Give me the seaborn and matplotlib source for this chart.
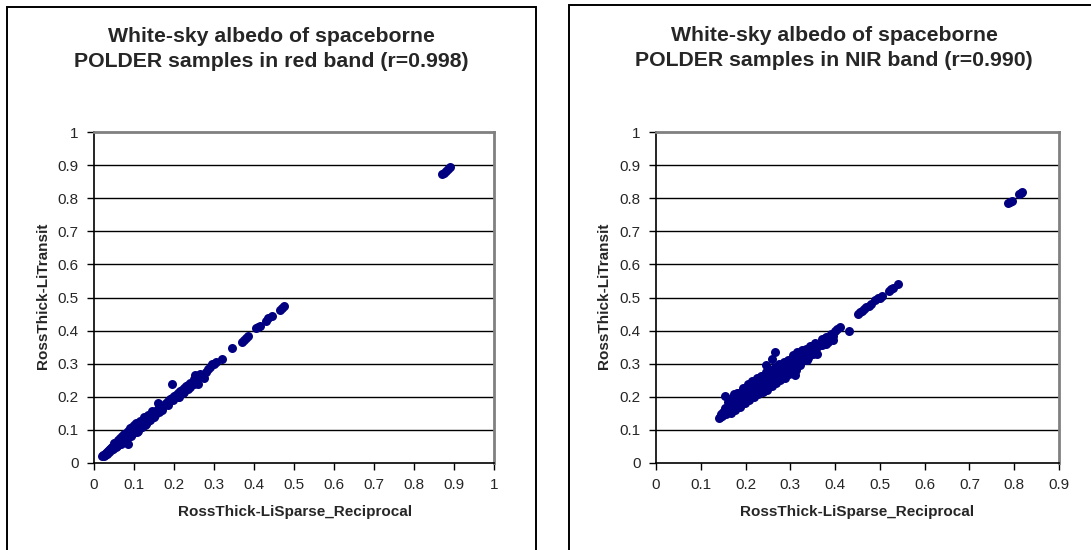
import matplotlib
matplotlib.use("Agg")
import matplotlib.pyplot as plt
import seaborn as sns
import pandas as pd
from matplotlib.patches import Rectangle

# ---- data: red band ----
red_x = [0.020, 0.022, 0.025, 0.027, 0.028, 0.030, 0.032, 0.033, 0.035, 0.037,
         0.038, 0.040, 0.042, 0.043, 0.045, 0.047, 0.048, 0.050, 0.052, 0.053,
         0.055, 0.057, 0.058, 0.060, 0.062, 0.063, 0.065, 0.067, 0.068, 0.070,
         0.072, 0.073, 0.075, 0.077, 0.078, 0.080, 0.082, 0.083, 0.085, 0.087,
         0.088, 0.090, 0.092, 0.093, 0.095, 0.097, 0.098, 0.100, 0.102, 0.103,
         0.105, 0.107, 0.108, 0.110, 0.112, 0.113, 0.115, 0.117, 0.118, 0.120,
         0.122, 0.125, 0.127, 0.130, 0.132, 0.135, 0.138, 0.140, 0.143, 0.145,
         0.148, 0.150, 0.153, 0.155, 0.160, 0.163, 0.165, 0.170, 0.175, 0.180,
         0.183, 0.185, 0.190, 0.195, 0.198, 0.200, 0.205, 0.210, 0.213, 0.215,
         0.220, 0.222, 0.225, 0.230, 0.235, 0.240, 0.245, 0.250, 0.253, 0.255,
         0.260, 0.265, 0.270, 0.280, 0.285, 0.290, 0.295, 0.300, 0.305, 0.320,
         0.345, 0.370, 0.375, 0.380, 0.385, 0.405, 0.410, 0.415, 0.430, 0.435,
         0.445, 0.465, 0.470, 0.475, 0.870, 0.875, 0.880, 0.885, 0.890,
         0.065, 0.075, 0.085, 0.095, 0.105, 0.115, 0.125, 0.135, 0.145, 0.100,
         0.110, 0.090, 0.080, 0.070, 0.060, 0.050, 0.120, 0.130, 0.160, 0.195,
         0.085, 0.250, 0.235, 0.055, 0.068, 0.078, 0.092, 0.108, 0.118, 0.128,
         0.140, 0.150, 0.170, 0.185, 0.210, 0.225, 0.240, 0.260, 0.275]
red_y = [0.022, 0.025, 0.020, 0.028, 0.024, 0.030, 0.033, 0.027, 0.035, 0.040,
         0.033, 0.042, 0.045, 0.038, 0.047, 0.050, 0.043, 0.055, 0.052, 0.060,
         0.058, 0.063, 0.050, 0.065, 0.060, 0.070, 0.068, 0.062, 0.075, 0.072,
         0.080, 0.065, 0.078, 0.085, 0.072, 0.083, 0.090, 0.078, 0.088, 0.095,
         0.082, 0.093, 0.100, 0.085, 0.098, 0.105, 0.092, 0.103, 0.110, 0.097,
         0.108, 0.115, 0.100, 0.113, 0.120, 0.105, 0.118, 0.125, 0.110, 0.122,
         0.118, 0.127, 0.120, 0.132, 0.125, 0.137, 0.130, 0.143, 0.135, 0.148,
         0.140, 0.152, 0.145, 0.158, 0.162, 0.155, 0.167, 0.170, 0.175, 0.182,
         0.178, 0.188, 0.192, 0.196, 0.190, 0.203, 0.205, 0.210, 0.200, 0.218,
         0.222, 0.212, 0.228, 0.232, 0.236, 0.243, 0.238, 0.255, 0.265, 0.248,
         0.262, 0.268, 0.262, 0.275, 0.285, 0.290, 0.298, 0.300, 0.305, 0.315,
         0.348, 0.365, 0.372, 0.378, 0.385, 0.407, 0.410, 0.413, 0.430, 0.438,
         0.445, 0.463, 0.468, 0.475, 0.872, 0.877, 0.882, 0.887, 0.893,
         0.075, 0.088, 0.098, 0.110, 0.122, 0.127, 0.140, 0.145, 0.158, 0.115,
         0.098, 0.105, 0.092, 0.082, 0.070, 0.060, 0.110, 0.118, 0.180, 0.240,
         0.058, 0.240, 0.225, 0.048, 0.058, 0.070, 0.082, 0.095, 0.108, 0.115,
         0.130, 0.138, 0.160, 0.175, 0.198, 0.215, 0.230, 0.240, 0.258]

# ---- data: NIR band ----
nir_x = [0.140, 0.143, 0.145, 0.148, 0.150, 0.152, 0.155, 0.157, 0.160, 0.162,
         0.165, 0.167, 0.170, 0.172, 0.175, 0.177, 0.180, 0.182, 0.185, 0.187,
         0.190, 0.192, 0.195, 0.197, 0.200, 0.202, 0.205, 0.207, 0.210, 0.212,
         0.215, 0.217, 0.220, 0.222, 0.225, 0.227, 0.230, 0.232, 0.235, 0.237,
         0.240, 0.242, 0.245, 0.247, 0.250, 0.252, 0.255, 0.257, 0.260, 0.262,
         0.265, 0.267, 0.270, 0.272, 0.275, 0.277, 0.280, 0.282, 0.285, 0.287,
         0.290, 0.292, 0.295, 0.297, 0.300, 0.303, 0.305, 0.308, 0.310, 0.313,
         0.315, 0.318, 0.320, 0.323, 0.325, 0.328, 0.330, 0.335, 0.340, 0.345,
         0.350, 0.355, 0.360, 0.365, 0.370, 0.375, 0.380, 0.385, 0.390, 0.395,
         0.400, 0.405, 0.410, 0.430, 0.310, 0.155, 0.260, 0.265, 0.245, 0.200,
         0.180, 0.210, 0.230, 0.250, 0.270, 0.290, 0.320, 0.340, 0.360, 0.170,
         0.190, 0.220, 0.240, 0.280, 0.300, 0.330, 0.350, 0.380, 0.165, 0.175,
         0.450, 0.455, 0.460, 0.465, 0.470, 0.475, 0.480, 0.490, 0.495, 0.500,
         0.505, 0.520, 0.525, 0.530, 0.540, 0.785, 0.790, 0.795, 0.810, 0.815,
         0.818,
         0.160, 0.175, 0.185, 0.195, 0.205, 0.215, 0.225, 0.235, 0.245, 0.255,
         0.265, 0.275, 0.285, 0.295, 0.305, 0.315, 0.325, 0.335, 0.345, 0.355,
         0.370, 0.385, 0.395, 0.168, 0.178, 0.188, 0.198, 0.208, 0.218, 0.228,
         0.238, 0.248, 0.258, 0.268, 0.278, 0.288, 0.298, 0.312, 0.322, 0.338]
nir_y = [0.135, 0.140, 0.148, 0.142, 0.155, 0.150, 0.165, 0.148, 0.170, 0.158,
         0.175, 0.150, 0.180, 0.165, 0.190, 0.160, 0.195, 0.175, 0.200, 0.170,
         0.205, 0.185, 0.210, 0.190, 0.215, 0.195, 0.220, 0.200, 0.230, 0.210,
         0.235, 0.205, 0.240, 0.215, 0.245, 0.220, 0.250, 0.228, 0.255, 0.235,
         0.258, 0.240, 0.262, 0.230, 0.265, 0.245, 0.270, 0.250, 0.275, 0.255,
         0.280, 0.260, 0.285, 0.258, 0.290, 0.268, 0.292, 0.275, 0.298, 0.265,
         0.300, 0.280, 0.295, 0.285, 0.305, 0.290, 0.312, 0.295, 0.318, 0.300,
         0.325, 0.305, 0.330, 0.312, 0.335, 0.320, 0.338, 0.335, 0.342, 0.345,
         0.340, 0.355, 0.350, 0.358, 0.375, 0.365, 0.380, 0.372, 0.390, 0.385,
         0.400, 0.405, 0.410, 0.398, 0.265, 0.202, 0.315, 0.335, 0.295, 0.228,
         0.210, 0.225, 0.235, 0.248, 0.255, 0.270, 0.300, 0.318, 0.330, 0.195,
         0.200, 0.222, 0.238, 0.270, 0.285, 0.310, 0.330, 0.360, 0.165, 0.185,
         0.450, 0.455, 0.460, 0.465, 0.470, 0.475, 0.480, 0.493, 0.497, 0.500,
         0.505, 0.520, 0.525, 0.530, 0.542, 0.787, 0.790, 0.792, 0.812, 0.815,
         0.818,
         0.185, 0.208, 0.212, 0.228, 0.240, 0.248, 0.258, 0.262, 0.275, 0.282,
         0.290, 0.300, 0.305, 0.312, 0.325, 0.335, 0.340, 0.345, 0.352, 0.362,
         0.355, 0.365, 0.372, 0.158, 0.165, 0.172, 0.182, 0.190, 0.198, 0.208,
         0.215, 0.222, 0.232, 0.242, 0.250, 0.258, 0.268, 0.282, 0.295, 0.310]

titles = ["White-sky albedo of spaceborne\nPOLDER samples in red band (r=0.998)",
          "White-sky albedo of spaceborne\nPOLDER samples in NIR band (r=0.990)"]
xlabel = "RossThick-LiSparse_Reciprocal"
ylabel = "RossThick-LiTransit"
red_xticks = [0, 0.1, 0.2, 0.3, 0.4, 0.5, 0.6, 0.7, 0.8, 0.9, 1]
nir_xticks = [0, 0.1, 0.2, 0.3, 0.4, 0.5, 0.6, 0.7, 0.8, 0.9]
yticks = [0, 0.1, 0.2, 0.3, 0.4, 0.5, 0.6, 0.7, 0.8, 0.9, 1]

sns.set_style("white")
plt.rcParams['font.family'] = ['Liberation Sans', 'DejaVu Sans']

W, H = 1091, 550
fig = plt.figure(figsize=(W / 100, H / 100), dpi=100)

def fx(px):
    return px / W

def fy(py):
    return 1 - py / H

# outer chart boxes
for (x0, y0, x1) in [(6.5, 6.5, 535.5), (568.5, 4.5, 1100)]:
    fig.patches.append(Rectangle((fx(x0), fy(600)), fx(x1) - fx(x0), fy(y0) - fy(600),
                                 transform=fig.transFigure, fill=False,
                                 edgecolor='black', linewidth=1.4, zorder=0))

def fmt(v):
    if v == 0:
        return "0"
    if v == 1:
        return "1"
    return f"{v:.1f}"

panels = [
    dict(x=red_x, y=red_y, left=94, right=494, top=132, bottom=463,
         xlim=1.0, xticks=red_xticks, title=titles[0], tx=271, ty=49,
         xlx=295, ylx=43),
    dict(x=nir_x, y=nir_y, left=656, right=1059, top=132, bottom=463,
         xlim=0.9, xticks=nir_xticks, title=titles[1], tx=834, ty=48,
         xlx=857, ylx=604),
]

for p in panels:
    ax = fig.add_axes([fx(p['left']), fy(p['bottom']),
                       fx(p['right']) - fx(p['left']), fy(p['top']) - fy(p['bottom'])])
    df = pd.DataFrame({'x': p['x'], 'y': p['y']})
    sns.scatterplot(data=df, x='x', y='y', ax=ax, color='#000080', s=42,
                    edgecolor='#000080', linewidth=0, zorder=3, clip_on=False)
    ax.set_xlim(0, p['xlim'])
    ax.set_ylim(0, 1)
    ax.set_xticks(p['xticks'])
    ax.set_xticklabels([fmt(v) for v in p['xticks']])
    ax.set_yticks(yticks)
    ax.set_yticklabels([fmt(v) for v in yticks])
    ax.grid(False)
    for v in yticks[1:-1]:
        ax.axhline(v, color='black', linewidth=1.0, zorder=1)
    for s in ['top', 'right']:
        ax.spines[s].set_color('#808080')
        ax.spines[s].set_linewidth(2.0)
    for s in ['left', 'bottom']:
        ax.spines[s].set_color('black')
        ax.spines[s].set_linewidth(1.2)
    ax.tick_params(axis='both', direction='out', length=5, width=1.0, color='black',
                   labelsize=11, pad=6, left=True, bottom=True)
    ax.set_xlabel("")
    ax.set_ylabel("")
    fig.text(fx(p['xlx']), fy(512), xlabel, ha='center', va='center',
             fontsize=11, fontweight='bold')
    fig.text(fx(p['ylx']), fy(296), ylabel, ha='center',
             va='center', rotation=90, fontsize=11, fontweight='bold')
    fig.text(fx(p['tx']), fy(p['ty']), p['title'], ha='center', va='center',
             fontsize=15.3, fontweight='bold', linespacing=1.35)

fig.savefig("out.png", dpi=100)
